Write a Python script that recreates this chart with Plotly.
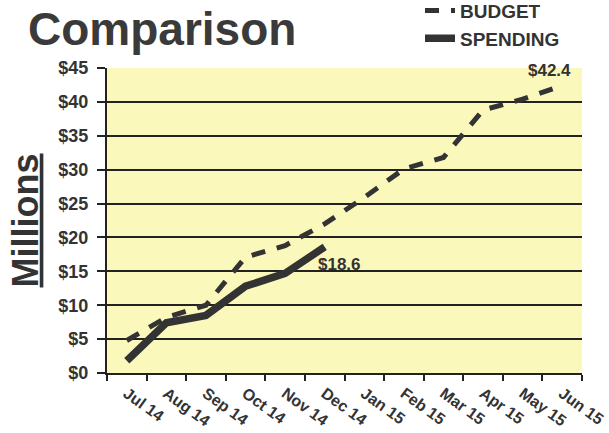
import plotly.graph_objects as go

months = ["Jul 14", "Aug 14", "Sep 14", "Oct 14", "Nov 14", "Dec 14",
          "Jan 15", "Feb 15", "Mar 15", "Apr 15", "May 15", "Jun 15"]
budget = [4.8, 8.2, 10.0, 17.1, 18.8, 22.0, 25.9, 30.1, 31.8, 38.8, 40.4, 42.4]
spending = [1.8, 7.4, 8.5, 12.8, 14.7, 18.6]
y_ticks = [0, 5, 10, 15, 20, 25, 30, 35, 40, 45]
y_tick_labels = ["$0", "$5", "$10", "$15", "$20", "$25", "$30", "$35", "$40", "$45"]

INK = "#333333"
FONT = "Liberation Sans, Arial, sans-serif"

fig = go.Figure()
fig.add_trace(go.Scatter(
    x=months, y=budget, name="<b>BUDGET</b>", mode="lines",
    line=dict(color=INK, width=5, dash="14px,12px"),
    legendgroup="b", cliponaxis=False,
))
fig.add_trace(go.Scatter(
    x=months[:len(spending)], y=spending, name="<b>SPENDING</b>", mode="lines",
    line=dict(color=INK, width=7.5),
    legendgroup="s", cliponaxis=False,
))

fig.update_layout(
    width=609, height=433,
    margin=dict(l=107, r=27, t=68, b=60, autoexpand=False),
    paper_bgcolor="white",
    plot_bgcolor="#FBF8BC",
    font=dict(family=FONT, color=INK),
    showlegend=True,
    legend=dict(x=(420 - 107) / 475, xanchor="left", y=1.250, yanchor="top",
                font=dict(family=FONT, size=19, color=INK),
                bgcolor="rgba(0,0,0,0)", tracegroupgap=0,
                itemwidth=30),
    annotations=[
        dict(text="<b>Comparison</b>", xref="paper", yref="paper",
             x=(26 - 107) / 475, y=(373 - 29) / 305, xanchor="left", yanchor="middle",
             showarrow=False, font=dict(family=FONT, size=46, color="#3a3a3a")),
        dict(text="<b>$%.1f</b>" % budget[-1], x=months[-1], y=budget[-1],
             xref="x", yref="y", xanchor="center", yanchor="bottom",
             xshift=-13, yshift=4, showarrow=False,
             font=dict(family=FONT, size=17, color=INK)),
        dict(text="<b>$%.1f</b>" % spending[-1], x=months[len(spending) - 1], y=spending[-1],
             xref="x", yref="y", xanchor="left", yanchor="top",
             xshift=-9, yshift=-6, showarrow=False,
             font=dict(family=FONT, size=17, color=INK)),
    ],
)
fig.update_xaxes(
    type="category", categoryorder="array", categoryarray=months,
    tickson="boundaries", ticks="outside", ticklen=6, tickwidth=2, tickcolor="#222",
    showline=True, linecolor="#222", linewidth=2, showgrid=False,
    tickangle=36, tickfont=dict(family=FONT, size=16, color=INK),
    tickprefix="<b>", ticksuffix="</b>", ticklabelstandoff=3,
    range=[-0.5, 11.5], automargin=False,
)
fig.update_yaxes(
    range=[0, 45], tickvals=y_ticks, ticktext=["<b>%s</b>" % t for t in y_tick_labels],
    ticks="outside", ticklen=8, tickwidth=1.5, tickcolor="#222",
    showline=True, linecolor="#222", linewidth=2,
    showgrid=True, gridcolor="#222", gridwidth=2,
    zeroline=False, ticklabelstandoff=5, automargin=False,
    tickfont=dict(family=FONT, size=18, color=INK),
    title=dict(text="<b><span style='text-decoration:underline'>Millions</span></b>",
               font=dict(family=FONT, size=36, color=INK), standoff=9),
)

fig.write_html("out.html")
